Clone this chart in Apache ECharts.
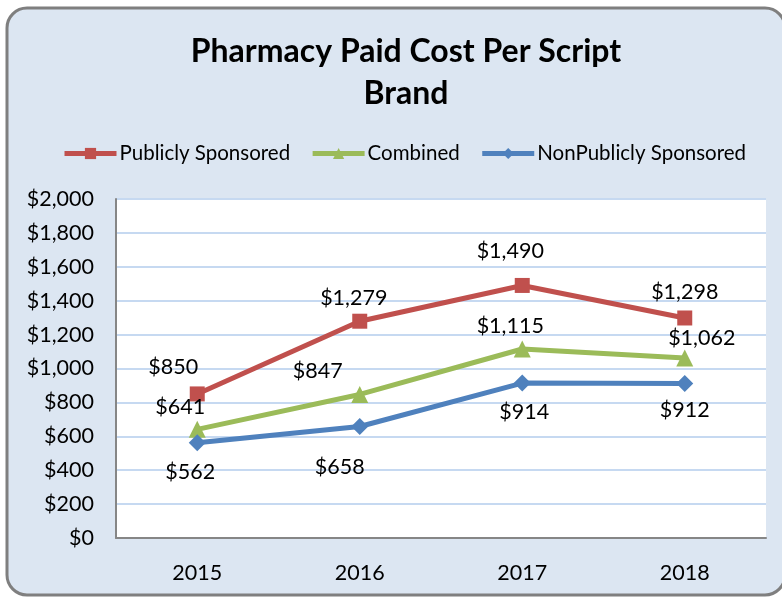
<!DOCTYPE html>
<html>
<head>
<meta charset="utf-8">
<script src="https://cdn.jsdelivr.net/npm/echarts@6/dist/echarts.min.js"></script>
<style>
  html, body { margin: 0; padding: 0; background: #ffffff; }
  #chart { width: 782px; height: 597px; }
</style>
</head>
<body>
<div id="chart"></div>
<script>
const years = ["2015", "2016", "2017", "2018"];
const publiclySponsored = [850, 1279, 1490, 1298];
const combined = [641, 847, 1115, 1062];
const nonPubliclySponsored = [562, 658, 914, 912];

// label nudges (px from the marker centre), picked to match the reference
const publicOffsets = [[-24, -27], [-6, -23], [-12, -34], [0, -26]];
const combinedOffsets = [[-17, -22], [-42, -23], [-12, -23], [17, -20]];
const nonPublicOffsets = [[-7, 29], [-20, 41], [2, 29], [0, 27]];

const FONT = "Lato";

function money(v) {
  return "$" + v.toLocaleString("en-US");
}

function withLabels(values, offsets) {
  return values.map((v, i) => ({
    value: v,
    label: { offset: offsets[i] }
  }));
}

function lineSeries(name, values, offsets, color, symbol, symbolSize) {
  return {
    name,
    type: "line",
    data: withLabels(values, offsets),
    symbol,
    symbolSize,
    lineStyle: { color, width: 5 },
    itemStyle: { color },
    label: {
      show: true,
      position: "inside",
      color: "#000",
      fontFamily: FONT,
      fontSize: 21.5,
      formatter: p => money(p.value)
    },
    emphasis: { disabled: true },
    z: 3
  };
}

const chart = echarts.init(document.getElementById("chart"), null, { renderer: "canvas" });

chart.setOption({
  animation: false,
  backgroundColor: "#ffffff",
  graphic: [
    {
      type: "rect",
      z: -10,
      shape: { x: 7, y: 8, width: 778, height: 587, r: 20 },
      style: { fill: "#dce6f2", stroke: "#7f7f7f", lineWidth: 3 }
    }
  ],
  title: {
    text: "Pharmacy Paid Cost Per Script\nBrand",
    left: 401,
    textAlign: "center",
    top: 26,
    textStyle: {
      fontFamily: FONT,
      fontWeight: "bold",
      fontSize: 32,
      lineHeight: 42,
      color: "#000"
    }
  },
  legend: {
    top: 138,
    left: 57,
    itemWidth: 52,
    itemHeight: 14,
    itemGap: 20,
    lineStyle: { width: 5 },
    textStyle: { fontFamily: FONT, fontSize: 20.5, color: "#000", padding: [0, 0, 0, -2] },
    data: ["Publicly Sponsored", "Combined", "NonPublicly Sponsored"]
  },
  grid: {
    left: 116,
    top: 199,
    right: 16,
    bottom: 59,
    show: true,
    backgroundColor: "#ffffff",
    borderWidth: 0
  },
  xAxis: {
    type: "category",
    data: years,
    boundaryGap: true,
    axisLine: { lineStyle: { color: "#868686", width: 2 } },
    axisTick: { show: false },
    axisLabel: { fontFamily: FONT, fontSize: 21.5, color: "#000", margin: 24 }
  },
  yAxis: {
    type: "value",
    min: 0,
    max: 2000,
    interval: 200,
    axisLine: { show: true, lineStyle: { color: "#868686", width: 2 } },
    axisTick: { show: false },
    splitLine: { lineStyle: { color: "#c6d9f1", width: 2 } },
    axisLabel: {
      fontFamily: FONT,
      fontSize: 21.5,
      color: "#000",
      margin: 22,
      formatter: v => money(v)
    }
  },
  series: [
    lineSeries("Publicly Sponsored", publiclySponsored, publicOffsets, "#c0504d", "rect", 15),
    lineSeries("Combined", combined, combinedOffsets, "#9bbb59", "triangle", 17),
    lineSeries("NonPublicly Sponsored", nonPubliclySponsored, nonPublicOffsets, "#4f81bd", "diamond", 17)
  ]
});
</script>
</body>
</html>
